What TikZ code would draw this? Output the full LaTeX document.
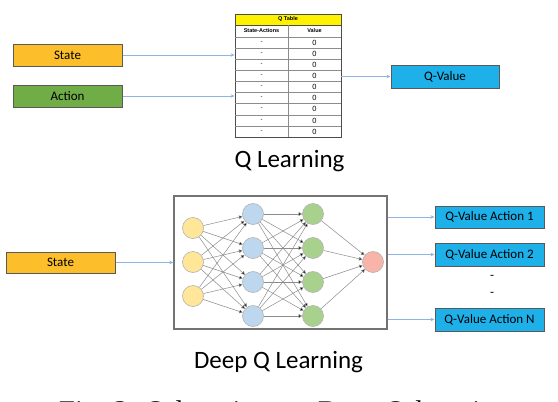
\documentclass[tikz,border=0pt]{standalone}
\usepackage{fontspec}
\setmainfont{Carlito}
\newfontfamily\tabfont{Liberation Sans}
\newfontfamily\capfont{Liberation Serif}
\usetikzlibrary{arrows.meta,calc}
\definecolor{cstate}{HTML}{FCBF2B}
\definecolor{caction}{HTML}{70AD47}
\definecolor{cq}{HTML}{1DB0E9}
\definecolor{clink}{HTML}{8EB4E2}
\definecolor{cin}{HTML}{FFE699}
\definecolor{chid}{HTML}{BDD7EE}
\definecolor{chid2}{HTML}{A9D18E}
\definecolor{cout}{HTML}{F8B4A8}
\tikzset{
  box/.style={draw=black!65, line width=1pt, minimum height=22pt, inner sep=0pt, font=\fontsize{13}{13}\selectfont},
  link/.style={draw=clink, line width=0.7pt, -{Stealth[length=4pt,width=3.5pt]}},
  neuron/.style={circle, draw=black!30, line width=0.6pt, minimum size=21pt, inner sep=0pt},
  wire/.style={draw=black!45, line width=0.5pt, -{Triangle[length=3.5pt,width=3.5pt,fill=black]}},
  cell/.style={font=\tabfont\fontsize{6}{6}\selectfont, inner sep=0pt},
  title/.style={font=\fontsize{25}{25}\selectfont, anchor=base},
}
\begin{document}
\begin{tikzpicture}[x=1pt,y=-1pt]
\useasboundingbox (0,0) rectangle (558,402);
\clip (0,0) rectangle (558,402);
% ---------------- Q learning ----------------
\node[box, fill=cstate, minimum width=109pt] (s1) at (67.5,55) {State};
\node[box, fill=caction, minimum width=109pt] (a1) at (67.5,96) {Action};
\node[box, fill=cq, minimum width=108pt, minimum height=23pt] (qv) at (445,76.5) {Q-Value};
% table
\node[draw=black!70, line width=0.8pt, minimum width=106pt, minimum height=123pt, inner sep=0pt] (qtable) at (288,75.5) {};
\fill[yellow] (235.5,14.5) rectangle (340.5,25);
\draw[black!70, line width=0.5pt] (235,25) -- (341,25);
\node[cell, font=\tabfont\bfseries\fontsize{5.5}{5.5}\selectfont] (qt) at (288,19.5) {Q Table};
\node[cell, font=\tabfont\bfseries\fontsize{5.5}{5.5}\selectfont] (sa) at (261.5,31) {State-Actions};
\node[cell, font=\tabfont\bfseries\fontsize{5.5}{5.5}\selectfont] (vh) at (314.5,31) {Value};
\draw[black!45, line width=0.7pt] (288,25) -- (288,137);
\foreach \y in {37,48,59,70,81,92,103,115,126}{
  \draw[black!45, line width=0.6pt] (235,\y) -- (341,\y);
}
\foreach \i/\y in {1/42.5,2/53.5,3/64.5,4/75.5,5/86.5,6/97.5,7/109,8/120.5,9/131.5}{
  \node[cell] (k\i) at (261.5,\y) {-};
  \node[cell, font=\tabfont\fontsize{7.5}{7.5}\selectfont] (v\i) at (314.5,\y) {0};
}
\draw[link] (s1.east) -- (s1.east -| qtable.west);
\draw[link] (a1.east) -- (a1.east -| qtable.west);
\draw[link] (qtable.east |- qv.west) -- (qv.west);
\node[title] (t1) at (289.5,167) {Q Learning};
% ---------------- Deep Q learning ----------------
\node[draw=black!55, line width=1.3pt, minimum width=213pt, minimum height=133pt, inner sep=0pt] (net) at (280.5,262.5) {};
\node[box, fill=cstate, minimum width=109pt, minimum height=21pt] (s2) at (60.5,262.5) {State};
\draw[link] (s2.east) -- (s2.east -| net.west);
% neurons
\foreach \i/\y in {1/228,2/262,3/296}{ \node[neuron, fill=cin] (i\i) at (193,\y) {}; }
\foreach \i/\y in {1/214,2/248,3/282,4/316}{ \node[neuron, fill=chid] (h\i) at (253,\y) {}; }
\foreach \i/\y in {1/214,2/248,3/282,4/316}{ \node[neuron, fill=chid2] (g\i) at (313,\y) {}; }
\node[neuron, fill=cout] (o) at (373,262) {};
\foreach \a in {1,2,3}{ \foreach \b in {1,2,3,4}{ \draw[wire] (i\a) -- (h\b); } }
\foreach \a in {1,2,3,4}{ \foreach \b in {1,2,3,4}{ \draw[wire] (h\a) -- (g\b); } }
\foreach \a in {1,2,3,4}{ \draw[wire] (g\a) -- (o); }
% outputs
\node[box, fill=cq, minimum width=109pt, minimum height=22pt] (q1) at (489.5,217) {Q-Value Action 1};
\node[box, fill=cq, minimum width=109pt, minimum height=23pt] (q2) at (489.5,254.5) {Q-Value Action 2};
\node[box, fill=cq, minimum width=109pt, minimum height=23pt] (qn) at (489.5,319.5) {Q-Value Action N};
\node[font=\fontsize{13}{13}\selectfont] (d1) at (492,277) {-};
\node[font=\fontsize{13}{13}\selectfont] (d2) at (492,294) {-};
\draw[link] (net.east |- q1.west) -- (q1.west);
\draw[link] (net.east |- q2.west) -- (q2.west);
\draw[link] (net.east |- qn.west) -- (qn.west);
\node[title] (t2) at (278.5,368) {Deep Q Learning};
% caption (cut off by the frame, as in the reference)
\node[font=\capfont\fontsize{28.5}{28.5}\selectfont, anchor=base west, inner sep=0pt] (cap) at (59,420) {Fig. 3: Q-learning vs. Deep Q-learning};
\end{tikzpicture}
\end{document}
